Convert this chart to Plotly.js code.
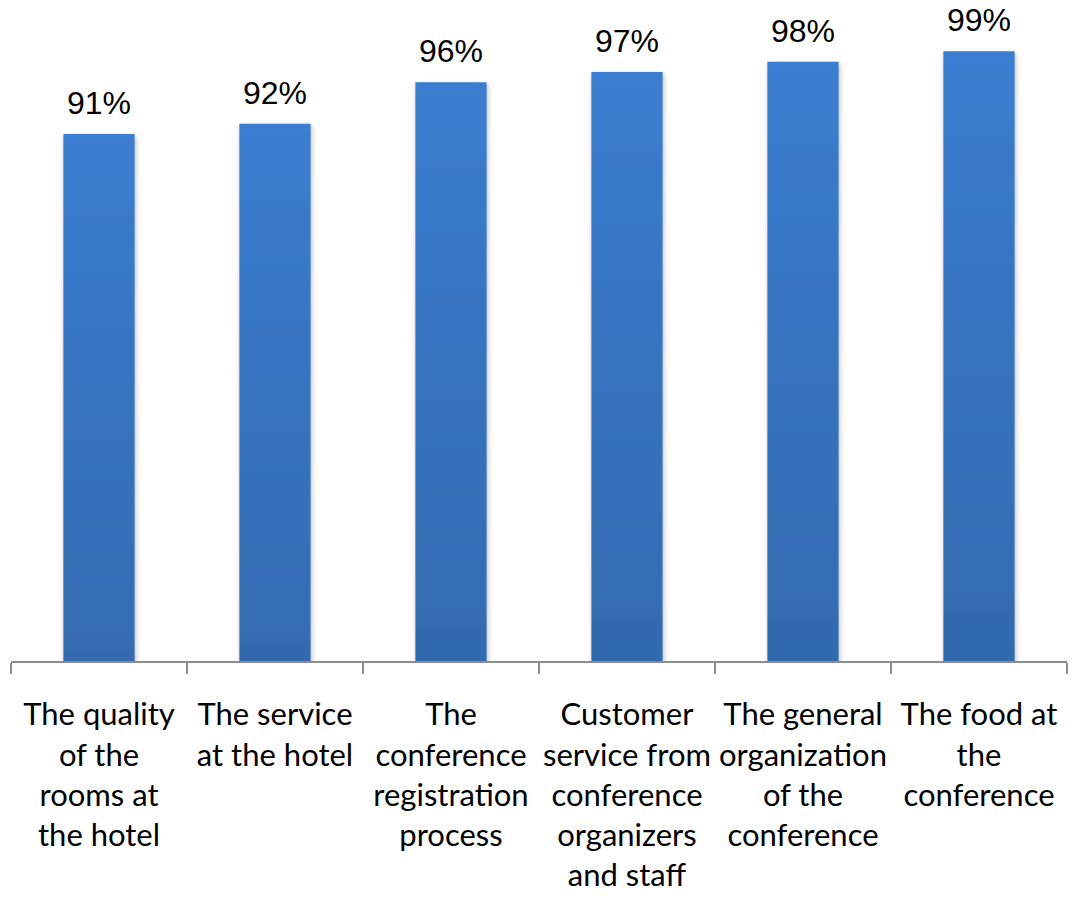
<!DOCTYPE html>
<html>
<head>
<meta charset="utf-8">
<script src="https://cdn.plot.ly/plotly-3.0.1.min.js"></script>
<style>html,body{margin:0;padding:0;background:#fff;}#chart{width:1072px;height:899px;}</style>
</head>
<body>
<div id="chart"></div>
<script>
const categories = [
  "The quality<br>of the<br>rooms at<br>the hotel",
  "The service<br>at the hotel",
  "The<br>conference<br>registration<br>process",
  "Customer<br>service from<br>conference<br>organizers<br>and staff",
  "The general<br>organization<br>of the<br>conference",
  "The food at<br>the<br>conference"
];
const values = [91, 92, 96, 97, 98, 99];
const valueLabels = ["91%", "92%", "96%", "97%", "98%", "99%"];

const trace = {
  type: 'bar',
  x: categories,
  y: values,
  marker: {color: '#3570b8', line: {width: 0}},
  hoverinfo: 'none'
};

const annotations = values.map((v, i) => ({
  x: categories[i], y: v, xref: 'x', yref: 'y',
  text: valueLabels[i], showarrow: false,
  yanchor: 'bottom', yshift: 11,
  font: {family: 'Liberation Sans, Arial, sans-serif', size: 32, color: '#000'}
}));

const layout = {
  width: 1072, height: 899,
  margin: {l: 11, r: 5, t: 41, b: 238},
  paper_bgcolor: '#fff', plot_bgcolor: '#fff',
  showlegend: false,
  bargap: 0.595,
  xaxis: {
    type: 'category',
    tickson: 'boundaries',
    tickangle: 0,
    ticks: 'outside', ticklen: 11, tickwidth: 2, tickcolor: '#8c8c8c',
    showline: true, linecolor: '#8c8c8c', linewidth: 2,
    showgrid: false, zeroline: false,
    ticklabelstandoff: 25,
    tickfont: {family: 'Lato, sans-serif', size: 31, color: '#000'}
  },
  yaxis: {
    range: [40, 100],
    visible: false, showgrid: false, zeroline: false
  },
  annotations: annotations
};

Plotly.newPlot('chart', [trace], layout, {displayModeBar: false, staticPlot: true}).then(() => {
  const svg = document.querySelector('#chart svg.main-svg');
  const ns = 'http://www.w3.org/2000/svg';
  const defs = document.createElementNS(ns, 'defs');
  defs.innerHTML =
    '<linearGradient id="barGrad" x1="0" y1="0" x2="0" y2="1">' +
    '<stop offset="0" stop-color="#3b7dd0"/>' +
    '<stop offset="1" stop-color="#2d5d98"/>' +
    '</linearGradient>' +
    '<filter id="barShadow" x="-20%" y="-5%" width="140%" height="115%">' +
    '<feDropShadow dx="1" dy="2" stdDeviation="2.5" flood-color="#000" flood-opacity="0.28"/>' +
    '</filter>';
  svg.insertBefore(defs, svg.firstChild);
  document.querySelectorAll('#chart .trace.bars .point path').forEach(p => {
    p.style.fill = 'url(#barGrad)';
    p.setAttribute('filter', 'url(#barShadow)');
  });
});
</script>
</body>
</html>
